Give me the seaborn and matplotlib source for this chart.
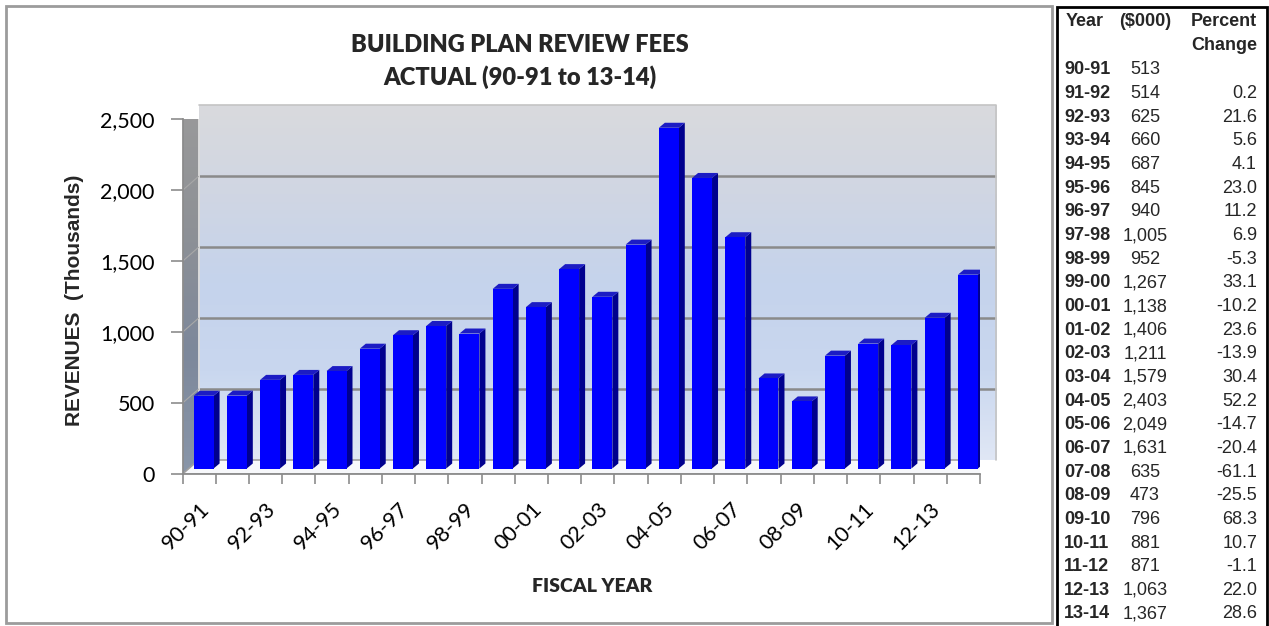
import numpy as np
import pandas as pd
import matplotlib
matplotlib.use("Agg")
import matplotlib.pyplot as plt
import matplotlib.transforms as mtransforms
from matplotlib.patches import Polygon, Rectangle
from matplotlib.colors import LinearSegmentedColormap
import seaborn as sns

# ---- data -------------------------------------------------------------
years = ["90-91", "91-92", "92-93", "93-94", "94-95", "95-96", "96-97", "97-98",
         "98-99", "99-00", "00-01", "01-02", "02-03", "03-04", "04-05", "05-06",
         "06-07", "07-08", "08-09", "09-10", "10-11", "11-12", "12-13", "13-14"]
revenues = [513, 514, 625, 660, 687, 845, 940, 1005, 952, 1267, 1138, 1406,
            1211, 1579, 2403, 2049, 1631, 635, 473, 796, 881, 871, 1063, 1367]
pct_change = [None, 0.2, 21.6, 5.6, 4.1, 23.0, 11.2, 6.9, -5.3, 33.1, -10.2, 23.6,
              -13.9, 30.4, 52.2, -14.7, -20.4, -61.1, -25.5, 68.3, 10.7, -1.1, 22.0, 28.6]
y_ticks = [0, 500, 1000, 1500, 2000, 2500]
title_lines = ["BUILDING PLAN REVIEW FEES", "ACTUAL (90-91 to 13-14)"]
x_title = "FISCAL YEAR"
y_title = "REVENUES  (Thousands)"
table_header = ["Year", "($000)", "Percent", "Change"]

# ---- style ------------------------------------------------------------
sns.set_theme(style="white")
plt.rcParams["font.family"] = ["Lato", "DejaVu Sans"]

W, H = 1269, 626
fig = plt.figure(figsize=(W / 100, H / 100), dpi=100)
fig.patch.set_facecolor("white")

# chart frame and table frame
fig.add_artist(Rectangle((6 / W, 3 / H), 1046 / W, 617 / H, transform=fig.transFigure,
                         fill=False, edgecolor="#9c9c9c", lw=2))
fig.add_artist(Rectangle((1057 / W, -0.02), 210 / W, (626 - 7) / H + 0.02,
                         transform=fig.transFigure, fill=False, edgecolor="black", lw=2))

# front plane of the 3-D plot
ax = fig.add_axes([182.5 / W, 152 / H, 797.5 / W, 354.5 / H])
ax.patch.set_visible(False)

df = pd.DataFrame({"year": years, "revenue": revenues})
sns.barplot(data=df, x="year", y="revenue", color="#0000ff", saturation=1,
            width=0.6, ax=ax, zorder=5, linewidth=0)
bars = list(ax.patches)

XMIN, XMAX = -0.5, len(years) - 0.5
YMIN, YMAX = y_ticks[0], y_ticks[-1]
ax.set_xlim(XMIN, XMAX)
ax.set_ylim(YMIN, YMAX)

DX, DY = 16, 14        # depth of the plot box (pixels)
BX, BY = 4.5, 5.5      # front face of bars sits inside the box
SX, SY = 6, 5          # bar depth
ident = mtransforms.IdentityTransform()
back = mtransforms.offset_copy(ax.transData, fig=fig, x=DX, y=DY, units="dots")


def disp(x, y):
    return ax.transData.transform((x, y))


# back wall with a vertical gradient
wall_cmap = LinearSegmentedColormap.from_list(
    "wall", ["#e0e7f5", "#c9d7ef", "#c5d3ec", "#d0d6e3", "#d9dadd"])
grad = np.linspace(0, 1, 256).reshape(-1, 1)
ax.imshow(grad, extent=(XMIN, XMAX, YMIN, YMAX), transform=back, aspect="auto",
          cmap=wall_cmap, origin="lower", zorder=0, clip_on=False,
          interpolation="bilinear")
for v in y_ticks[1:-1]:
    ax.plot([XMIN, XMAX], [v, v], transform=back, color="#8a8a8a", lw=1.8,
            clip_on=False, zorder=1, solid_capstyle="butt")
ax.plot([XMIN, XMAX, XMAX], [YMAX, YMAX, YMIN], transform=back, color="#c4c4c4",
        lw=1.2, clip_on=False, zorder=1)

# left side wall
p0, p1 = disp(XMIN, YMIN), disp(XMIN, YMAX)
lw_pts = [p0, p1, p1 + (DX, DY), p0 + (DX, DY)]
left_wall = Polygon(lw_pts, closed=True, transform=ident, facecolor="none",
                    edgecolor="none", zorder=1)
ax.add_patch(left_wall)
side_cmap = LinearSegmentedColormap.from_list("side", ["#8996a9", "#7d889b", "#8e9196", "#9a9a9a"])
img = ax.imshow(grad, extent=(p0[0], p0[0] + DX, p0[1], p1[1] + DY), transform=ident,
                aspect="auto", cmap=side_cmap, origin="lower", zorder=1,
                interpolation="bilinear")
img.set_clip_path(left_wall)
ax.plot([p0[0] + DX, p1[0] + DX], [p0[1] + DY, p1[1] + DY], transform=ident,
        color="#dcdcdc", lw=1.2, zorder=2)
for v in y_ticks[1:]:
    a = disp(XMIN, v)
    ax.plot([a[0], a[0] + DX], [a[1], a[1] + DY], transform=ident, color="#a8a8a8",
            lw=0.8, zorder=2)

# floor
f0, f1 = disp(XMIN, YMIN), disp(XMAX, YMIN)
floor = Polygon([f0, f1, f1 + (DX, DY), f0 + (DX, DY)], closed=True, transform=ident,
                facecolor="#f7f8fb", edgecolor="#a0a0a0", lw=1.2, zorder=2)
ax.add_patch(floor)

# 3-D bars: shift front faces into the box, add side and top faces
bar_tr = mtransforms.offset_copy(ax.transData, fig=fig, x=BX, y=BY, units="dots")
for p in bars:
    p.set_transform(bar_tr)
    p.set_clip_on(False)
    x0, x1, h = p.get_x(), p.get_x() + p.get_width(), p.get_height()
    off = np.array([BX, BY])
    d = np.array([SX, SY])
    bl, br = disp(x0, 0) + off, disp(x1, 0) + off
    tl, tr = disp(x0, h) + off, disp(x1, h) + off
    ax.add_patch(Polygon([br, tr, tr + d, br + d], closed=True, transform=ident,
                         facecolor="#00008e", edgecolor="none", zorder=4))
    ax.add_patch(Polygon([tl, tr, tr + d, tl + d], closed=True, transform=ident,
                         facecolor="#1c1cc4", edgecolor="none", zorder=4))

# axes, ticks and labels
sns.despine(ax=ax, top=True, right=True)
for s in ("left", "bottom"):
    ax.spines[s].set_color("#8c8c8c")
    ax.spines[s].set_linewidth(1.3)
    ax.spines[s].set_zorder(6)

ax.set_yticks(y_ticks, labels=[f"{v:,}" for v in y_ticks])
ax.tick_params(axis="y", direction="out", length=9, width=1.2, color="#8c8c8c",
               pad=11, labelsize=15.5, labelcolor="black", left=True)

ax.set_xticks(np.arange(XMIN, XMAX + 0.5, 1.0), labels=[])
ax.set_xticks(np.arange(0, len(years), 2), labels=years[::2], minor=True)
ax.tick_params(axis="x", which="major", direction="out", length=7, width=1.2,
               color="#8c8c8c", bottom=True)
ax.tick_params(axis="x", which="minor", length=0, pad=18, labelsize=15.5,
               labelcolor="black")
for t in ax.get_xticklabels(minor=True):
    t.set_rotation(45)
    t.set_ha("right")
    t.set_rotation_mode("anchor")
ax.set_xlabel("")
ax.set_ylabel("")

# titles
title_font = dict(ha="center", va="center", fontweight="heavy")
fig.text(520 / W, 1 - 45 / H, title_lines[0], fontsize=17, **title_font)
fig.text(520 / W, 1 - 77 / H, title_lines[1], fontsize=17, **title_font)
fig.text(592 / W, 1 - 586 / H, x_title, fontsize=14, **title_font)
fig.text(75 / W, 1 - 300 / H, y_title, ha="center", va="center", rotation=90,
         fontsize=15, fontweight="bold", family=["Liberation Sans", "DejaVu Sans"])

# value table
tfont = dict(family=["Liberation Sans", "DejaVu Sans"], fontsize=13, va="center")
col_year, col_val, col_pct = 1064 / W, 1145 / W, 1257 / W
fig.text(1066 / W, 1 - 21 / H, table_header[0], ha="left", fontweight="bold", **tfont)
fig.text(col_val, 1 - 21 / H, table_header[1], ha="center", fontweight="bold", **tfont)
fig.text(col_pct, 1 - 21 / H, table_header[2], ha="right", fontweight="bold", **tfont)
fig.text(col_pct, 1 - 45 / H, table_header[3], ha="right", fontweight="bold", **tfont)
row0, step = 70, 23.65
for i, (yr, rev, pc) in enumerate(zip(years, revenues, pct_change)):
    yy = 1 - (row0 + i * step) / H
    fig.text(col_year, yy, yr, ha="left", fontweight="bold", **tfont)
    fig.text(col_val, yy, f"{rev:,}", ha="center", **tfont)
    if pc is not None:
        fig.text(col_pct, yy, f"{pc:.1f}", ha="right", **tfont)

fig.savefig("out.png", dpi=100)
